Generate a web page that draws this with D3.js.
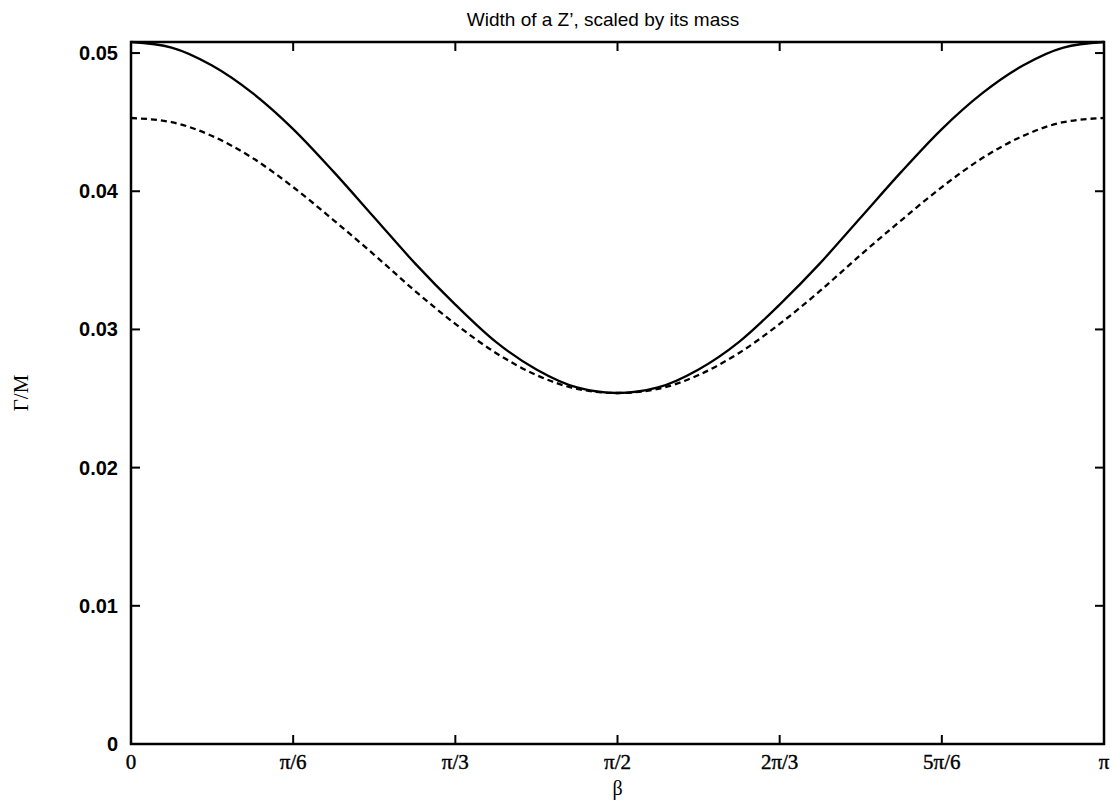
<!DOCTYPE html>
<html>
<head>
<meta charset="utf-8">
<script src="https://cdn.jsdelivr.net/npm/d3@7"></script>
<style>
  html, body { margin: 0; padding: 0; background: #fff; }
  svg { display: block; }
</style>
</head>
<body>
<svg id="chart" width="1115" height="801"></svg>
<script>
// Mixing angle beta, sampled every pi/24 from 0 to pi
const betaSteps = d3.range(0, 25); // k, with beta = k * pi / 24
// Gamma/M, full width curve (solid)
const widthSolid = [
  0.0508, 0.0504, 0.0491, 0.0471, 0.0445, 0.0414, 0.0381, 0.0348, 0.0318, 0.0291, 0.0271, 0.0258,
  0.0254,
  0.0258, 0.0271, 0.0291, 0.0318, 0.0348, 0.0381, 0.0414, 0.0445, 0.0471, 0.0491, 0.0504, 0.0508
];
// Gamma/M, second curve (dashed)
const widthDashed = [
  0.0453, 0.0450, 0.0440, 0.0424, 0.0403, 0.0379, 0.0354, 0.0328, 0.0304, 0.0283, 0.0267, 0.0257,
  0.0254,
  0.0257, 0.0267, 0.0283, 0.0304, 0.0328, 0.0354, 0.0379, 0.0403, 0.0424, 0.0440, 0.0450, 0.0453
];
// Axis ticks
const xTickValues = [0, 1, 2, 3, 4, 5, 6];              // multiples of pi/6
const xTickLabels = ["0", "π/6", "π/3", "π/2", "2π/3", "5π/6", "π"];
const yTickValues = [0, 0.01, 0.02, 0.03, 0.04, 0.05];
const yTickLabels = ["0", "0.01", "0.02", "0.03", "0.04", "0.05"];
const yMax = 0.0508;

const svg = d3.select("#chart");
const plot = { left: 131, right: 1104, top: 42, bottom: 744 };

const x = d3.scaleLinear().domain([0, Math.PI]).range([plot.left, plot.right]);
const y = d3.scaleLinear().domain([0, yMax]).range([plot.bottom, plot.top]);

const betaVals = betaSteps.map(k => k * Math.PI / 24);
const tickLen = 9;

// Inward ticks on all four sides
const g = svg.append("g");
const xt = xTickValues.map(v => v * Math.PI / 6);

g.selectAll("line.xb").data(xt).join("line")
  .attr("x1", d => x(d)).attr("x2", d => x(d))
  .attr("y1", plot.bottom).attr("y2", plot.bottom - tickLen)
  .attr("stroke", "#000").attr("stroke-width", 2);
g.selectAll("line.xt").data(xt).join("line")
  .attr("x1", d => x(d)).attr("x2", d => x(d))
  .attr("y1", plot.top).attr("y2", plot.top + tickLen)
  .attr("stroke", "#000").attr("stroke-width", 2);
g.selectAll("line.yl").data(yTickValues).join("line")
  .attr("x1", plot.left).attr("x2", plot.left + tickLen)
  .attr("y1", d => y(d)).attr("y2", d => y(d))
  .attr("stroke", "#000").attr("stroke-width", 2);
g.selectAll("line.yr").data(yTickValues).join("line")
  .attr("x1", plot.right).attr("x2", plot.right - tickLen)
  .attr("y1", d => y(d)).attr("y2", d => y(d))
  .attr("stroke", "#000").attr("stroke-width", 2);

// Curves
const line = (vals) => d3.line()
  .x((d, i) => x(betaVals[i]))
  .y(d => y(d))
  .curve(d3.curveMonotoneX)(vals);

svg.append("path").attr("d", line(widthDashed))
  .attr("fill", "none").attr("stroke", "#000").attr("stroke-width", 2.3)
  .attr("stroke-dasharray", "6,4");
svg.append("path").attr("d", line(widthSolid))
  .attr("fill", "none").attr("stroke", "#000").attr("stroke-width", 2.3);

// Frame
svg.append("rect")
  .attr("x", plot.left).attr("y", plot.top)
  .attr("width", plot.right - plot.left).attr("height", plot.bottom - plot.top)
  .attr("fill", "none").attr("stroke", "#000").attr("stroke-width", 2.5);

// Y tick labels
svg.selectAll("text.ylab").data(yTickValues).join("text")
  .attr("x", plot.left - 13).attr("y", d => y(d))
  .attr("dy", "0.35em").attr("text-anchor", "end")
  .attr("font-family", "Liberation Sans, Arial, sans-serif")
  .attr("font-size", 20).attr("font-weight", "bold")
  .text((d, i) => yTickLabels[i]);

// X tick labels
svg.selectAll("text.xlab").data(xt).join("text")
  .attr("x", d => x(d)).attr("y", plot.bottom + 25)
  .attr("text-anchor", "middle")
  .attr("font-family", "Liberation Serif, Times New Roman, serif")
  .attr("font-size", 21)
  .attr("stroke", "#000").attr("stroke-width", 0.4)
  .text((d, i) => xTickLabels[i]);

// Axis titles
svg.append("text")
  .attr("x", x(Math.PI / 2)).attr("y", plot.bottom + 51)
  .attr("text-anchor", "middle")
  .attr("font-family", "Liberation Serif, Times New Roman, serif")
  .attr("font-size", 20)
  .text("β");

svg.append("text")
  .attr("transform", `translate(28, ${(plot.top + plot.bottom) / 2}) rotate(-90)`)
  .attr("text-anchor", "middle")
  .attr("font-family", "Liberation Serif, Times New Roman, serif")
  .attr("font-size", 21)
  .text("Γ/M");

// Title
svg.append("text")
  .attr("x", 603).attr("y", 26)
  .attr("text-anchor", "middle")
  .attr("font-family", "Liberation Sans, Arial, sans-serif")
  .attr("font-size", 19)
  .text("Width of a Z’, scaled by its mass");
</script>
</body>
</html>
